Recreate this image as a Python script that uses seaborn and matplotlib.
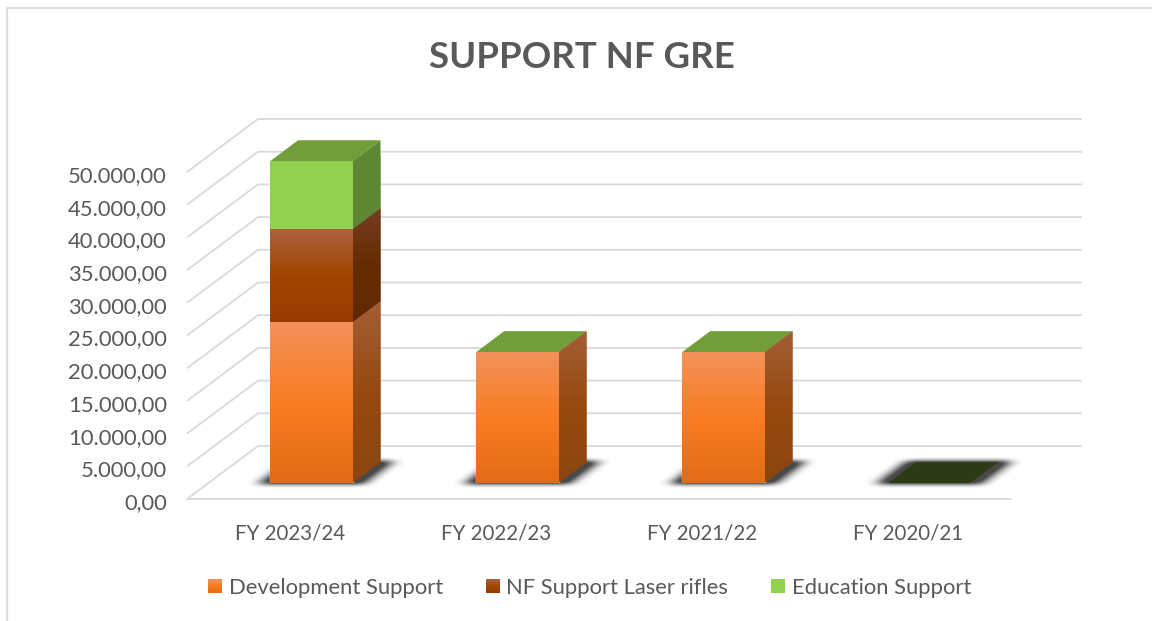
import numpy as np
import matplotlib
matplotlib.use("Agg")
import matplotlib.pyplot as plt
import seaborn as sns
from matplotlib.colors import LinearSegmentedColormap
from matplotlib.legend_handler import HandlerBase
from matplotlib.patches import Patch, Polygon, Rectangle
from matplotlib.transforms import ScaledTranslation

# data
categories = ["FY 2023/24", "FY 2022/23", "FY 2021/22", "FY 2020/21"]
development = [24600, 20000, 20000, 0]
laser_rifles = [14200, 0, 0, 0]
education = [10400, 0, 0, 0]
series_names = ["Development Support", "NF Support Laser rifles", "Education Support"]
y_ticks = [0, 5000, 10000, 15000, 20000, 25000, 30000, 35000, 40000, 45000, 50000]
y_labels = ["0,00", "5.000,00", "10.000,00", "15.000,00", "20.000,00", "25.000,00",
            "30.000,00", "35.000,00", "40.000,00", "45.000,00", "50.000,00"]

# colours top -> bottom
front_colors = [["#F4915A", "#F97C22", "#E36B17"],
                ["#AD603E", "#A34500", "#973B00"],
                ["#92D050", "#92D050"]]
side_colors = [["#A45E36", "#96490F", "#8C4510"],
               ["#733D23", "#662C00", "#622800"],
               ["#5F8733", "#5F8733"]]
top_color = "#719E3B"
empty_top_color = "#2C3A18"
grid_color = "#D9D9D9"
text_color = "#595959"

W, H = 1152, 621
bar_width = 0.4

sns.set_theme(style="white")
plt.rcParams["font.family"] = ["Lato", "DejaVu Sans"]

fig = plt.figure(figsize=(W / 100, H / 100), dpi=100, facecolor="white")


def axes_at(left, bottom, width, height):
    return fig.add_axes([left / W, 1 - bottom / H, width / W, height / H])


# axes for the front of the floor, a second one for the plane of the bars
ax = axes_at(187, 499, 824, 327)
ax_bars = axes_at(208.3, 483, 824, 327)
ax_bars.patch.set_alpha(0)
ax_bars.axis("off")

# floor and walls
wall_dx, wall_dy = 71 / 206, 53 / 327 * 50000
for val in y_ticks:
    ax.plot([-0.5, -0.5 + wall_dx, 3.5 + wall_dx], [val, val + wall_dy, val + wall_dy],
            color=grid_color, lw=1.3, clip_on=False, zorder=1, solid_capstyle="butt")
ax.plot([-0.5, 3.5], [0, 0], color=grid_color, lw=1.3, clip_on=False, zorder=1)

# bars
bottoms = np.zeros(len(categories))
values = [development, laser_rifles, education]
bar_sets = []
for vals, colors in zip(values, front_colors):
    sns.barplot(x=categories, y=vals, bottom=bottoms, ax=ax_bars, color=colors[1],
                width=bar_width, saturation=1, zorder=3)
    bar_sets.append(np.array(vals, dtype=float))
    bottoms = bottoms + np.array(vals, dtype=float)


def gradient_fill(axis, patch, stops, zorder):
    pts = patch.get_patch_transform().transform(patch.get_path().vertices)
    x0, x1 = pts[:, 0].min(), pts[:, 0].max()
    y0, y1 = pts[:, 1].min(), pts[:, 1].max()
    cmap = LinearSegmentedColormap.from_list("face", stops)
    im = axis.imshow(np.linspace(0, 1, 128)[:, None], cmap=cmap, aspect="auto", vmin=0, vmax=1,
                     extent=(x0, x1, y0, y1), origin="upper", zorder=zorder,
                     interpolation="bilinear")
    im.set_clip_path(patch)
    return im


depth_dx, depth_dy = 28 / 206, 21 / 327 * 50000
half = bar_width / 2


def box_blur(arr, size, axis):
    kernel = np.ones(size) / size
    for _ in range(2):
        arr = np.apply_along_axis(np.convolve, axis, arr, kernel, mode="same")
    return arr


def floor_shadow(axis, i):
    # blurred, widened copy of the bar footprint
    x0, x1 = i - half - 0.16, i + half + depth_dx + 0.16
    y0, y1 = -1500, depth_dy + 1500
    xs, ys = np.meshgrid(np.linspace(x0, x1, 280), np.linspace(y0, y1, 60))
    left = i - half + depth_dx * ys / depth_dy
    widen = 11 / 206
    mask = ((xs >= left - widen) & (xs <= left + bar_width + widen)
            & (ys >= -150) & (ys <= depth_dy + 150)).astype(float)
    mask = box_blur(box_blur(mask, 24, 1), 7, 0)
    rgba = np.zeros(mask.shape + (4,))
    rgba[..., :3] = 0.16
    rgba[..., 3] = np.clip(mask * 1.15, 0, 0.85)
    im = axis.imshow(rgba, extent=(x0, x1, y0, y1), origin="lower", aspect="auto", zorder=2,
                     interpolation="bilinear")
    # imshow clips to the axes by default, the shadow hangs below the zero line
    im.set_clip_path(None)
    im.set_clip_on(False)


for i, total in enumerate(bottoms):
    floor_shadow(ax_bars, i)
    # side faces
    start = 0
    for vals, stops in zip(bar_sets, side_colors):
        h = vals[i]
        if h > 0:
            side = Polygon([(i + half, start), (i + half + depth_dx, start + depth_dy),
                            (i + half + depth_dx, start + h + depth_dy), (i + half, start + h)],
                           closed=True, fc=stops[1], ec="none", clip_on=False, zorder=3)
            ax_bars.add_patch(side)
            gradient_fill(ax_bars, side, stops, 3.1)
        start += h
    # top face
    col = top_color if total > 0 else empty_top_color
    ax_bars.add_patch(Polygon([(i - half, total), (i + half, total),
                               (i + half + depth_dx, total + depth_dy), (i - half + depth_dx, total + depth_dy)],
                              closed=True, fc=col, ec="none", clip_on=False, zorder=3))

# gradients on the front faces
for container, stops in zip(ax_bars.containers, front_colors):
    for rect in container.patches:
        if rect.get_height() > 0:
            gradient_fill(ax_bars, rect, stops, 3.2)

ax_bars.set_xlim(-0.5, 3.5)
ax_bars.set_ylim(0, 50000)
ax_bars.set_zorder(2)

# axis text
ax.set_xlim(-0.5, 3.5)
ax.set_ylim(0, 50000)
ax.set_xticks(range(len(categories)))
ax.set_xticklabels(categories, fontsize=14.8, color=text_color)
ax.set_yticks(y_ticks)
ax.set_yticklabels(y_labels, fontsize=15.8, color=text_color)
ax.tick_params(axis="x", length=0, pad=18)
ax.tick_params(axis="y", length=0, pad=14.5)
for lab in ax.get_yticklabels():
    lab.set_transform(lab.get_transform() + ScaledTranslation(0, -2 / 100, fig.dpi_scale_trans))
sns.despine(ax=ax, left=True, bottom=True)
ax.patch.set_alpha(0)

fig.text(582 / W, 1 - 57 / H, "SUPPORT NF GRE", fontsize=26.4, fontweight="bold",
         color=text_color, ha="center", va="center")


# legend keys with the same gradient as the bars
class GradientKey(HandlerBase):
    def create_artists(self, legend, orig_handle, xdescent, ydescent, width, height, fontsize, trans):
        cmap = LinearSegmentedColormap.from_list("key", orig_handle.stops)
        size = width
        y0 = -ydescent + (height - size) / 2
        n = 14
        return [Rectangle((-xdescent, y0 + size * (n - 1 - k) / n), size, size / n + 0.2,
                          fc=cmap(k / (n - 1)), ec="none", transform=trans) for k in range(n)]


handles = []
for name, stops in zip(series_names, front_colors):
    p = Patch(label=name)
    p.stops = stops
    handles.append(p)
fig.legend(handles=handles, handler_map={Patch: GradientKey()}, ncol=3, frameon=False,
           loc="center", bbox_to_anchor=(589.5 / W, 1 - 588 / H), fontsize=15.8, labelcolor=text_color,
           handlelength=0.64, handletextpad=0.3, columnspacing=1.95)

# chart frame
fig.add_artist(plt.Line2D([6.5 / W, 6.5 / W, 1], [0, 1 - 7.5 / H, 1 - 7.5 / H],
                          color="#DEDEDE", lw=1.6, transform=fig.transFigure))

fig.savefig("out.png", dpi=100, facecolor="white")
